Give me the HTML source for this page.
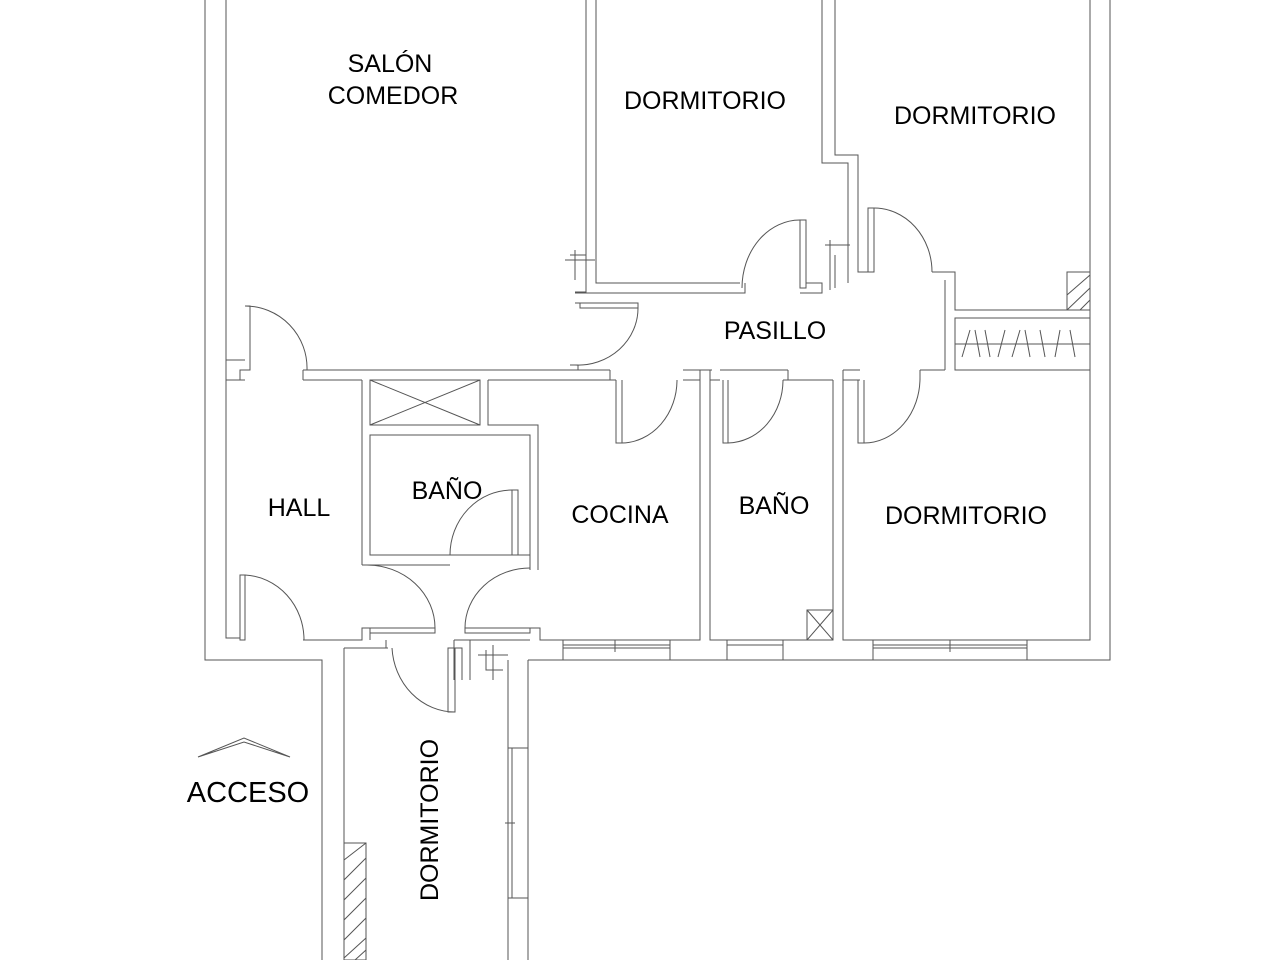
<!DOCTYPE html>
<html><head><meta charset="utf-8"><style>
html,body{margin:0;padding:0;background:#fff;width:1280px;height:960px;overflow:hidden}
svg{display:block}
text{font-family:"Liberation Sans",sans-serif;fill:#000;font-size:25px}
</style></head><body>
<svg width="1280" height="960" viewBox="0 0 1280 960">
<g fill="none" stroke="#555" stroke-width="1">
<path d="M205 0 V660 H322 V960"/>
<path d="M226 0 V360 H245"/>
<path d="M226 380 V638 H240"/>
<path d="M344 648 V960"/>
<path d="M344 648 H388"/>
<path d="M226 380 H245 M226 360 V380"/>
<path d="M245 306 H250 V370 H240 V380"/>
<path d="M245 306 A62 62 0 0 1 307 370"/>
<path d="M303 370 H610 M303 380 H362 M370 380 H480 M488 380 H610"/>
<path d="M303 370 V380"/>
<rect x="370" y="380" width="110" height="45"/>
<path d="M370 380 L480 425 M480 380 L370 425"/>
<path d="M362 380 V565 M488 380 V425 H538 V570"/>
<rect x="370" y="435" width="160" height="120"/>
<path d="M362 565 H450 M530 555 V570"/>
<path d="M512 490 H518 V555 H512 Z"/>
<path d="M512 490 A62 65 0 0 0 450 555"/>
<path d="M240 575 H245 V640 H240 Z"/>
<path d="M245 575 A62 65 0 0 1 304 640"/>
<path d="M303 640 H362 V628 H370 V640 M370 628 H435 V633 H370"/>
<path d="M367 565 A68 63 0 0 1 435 628"/>
<path d="M465 628 H530 V633 H465 Z"/>
<path d="M530 568 A65 60 0 0 0 465 628"/>
<path d="M530 628 H540 V640 H700 V380 H683"/>
<path d="M454 640 H530 M454 640 V680 M470 640 V680 M386 648 V640"/>
<path d="M454 648 H462 V680"/>
<path d="M478 655 H508 M493 645 V680 M486 650 V670 H503"/>
<path d="M508 660 V960 M528 660 V960"/>
<rect x="508" y="748" width="4" height="150"/>
<path d="M508 748 H528 M508 898 H528 M505 823 H515"/>
<rect x="344" y="843" width="22" height="117"/>
<path d="M344 860 L366 843 M344 880 L366 858 M344 900 L366 878 M344 920 L366 898 M344 940 L366 918 M344 958 L366 938 M355 960 L366 950"/>
<path d="M392 648 A63 68 0 0 0 455 712 M448 648 H455 V712 H448 Z"/>
<path d="M528 660 H1110 V0 M1090 0 V640 H843 V380 H860"/>
<path d="M563 640 V660 M670 640 V660 M727 640 V660 M783 640 V660 M873 640 V660 M1027 640 V660"/>
<path d="M563 645 H670 M563 648 H670 M615 640 V652 M873 645 H1027 M873 648 H1027 M950 640 V652 M727 645 H783"/>
<path d="M710 380 V640 H833 V380 M710 380 H720 M783 380 H833"/>
<rect x="807" y="610" width="26" height="30"/>
<path d="M807 610 L833 640 M833 610 L807 640"/>
<path d="M616 380 V443 H622 V380"/>
<path d="M622 443 A56 63 0 0 0 677 380"/>
<path d="M723 380 V443 H728 V380"/>
<path d="M728 443 A56 63 0 0 0 783 380"/>
<path d="M858 380 V443 H864 V380"/>
<path d="M864 443 A56 65 0 0 0 920 378"/>
<path d="M610 370 V380 H616 M683 370 H712 M700 370 V380 M710 370 V380 H715 M720 370 H788 M788 370 V380 M843 370 V380 M843 370 H860 M920 370 H945 M920 370 V380"/>
<path d="M586 0 V292 H575 M596 0 V283 H740 M575 293 H745 V283"/>
<path d="M575 303 H638 V308 H580 V303"/>
<path d="M638 308 A60 57 0 0 1 575 365"/>
<path d="M570 365 H578 V370"/>
<path d="M565 260 H595 M575 250 V280 M570 255 H586 V285"/>
<path d="M800 220 H806 V288 H800 Z"/>
<path d="M800 220 A58 68 0 0 0 742 288"/>
<path d="M806 283 H822 V293 H800"/>
<path d="M822 0 V163 H848 V283 M835 0 V155 H858 V272 H868"/>
<path d="M825 245 H850 M830 240 V290 M835 255 V288"/>
<path d="M868 208 H874 V272 H868 Z"/>
<path d="M874 208 A58 64 0 0 1 932 272"/>
<path d="M932 272 H955 V310 H1090 M945 280 V370"/>
<rect x="955" y="318" width="135" height="52"/>
<path d="M955 344 H1090 M962 357 L970 330 M975 330 L980 357 M985 330 L990 357 M998 357 L1005 330 M1012 357 L1020 330 M1025 330 L1030 357 M1040 330 L1045 357 M1055 357 L1060 330 M1070 330 L1075 357"/>
<rect x="1067" y="272" width="23" height="38"/>
<path d="M1067 295 L1090 275 M1067 310 L1090 288 M1080 310 L1090 300"/>
<path d="M198 757 L244 738 L290 757 L244 742 Z"/>
</g>
<text x="390" y="72" text-anchor="middle">SALÓN</text>
<text x="393" y="104" text-anchor="middle">COMEDOR</text>
<text x="705" y="109" text-anchor="middle">DORMITORIO</text>
<text x="975" y="124" text-anchor="middle">DORMITORIO</text>
<text x="775" y="339" text-anchor="middle">PASILLO</text>
<text x="299" y="516" text-anchor="middle">HALL</text>
<text x="447" y="499" text-anchor="middle">BAÑO</text>
<text x="620" y="523" text-anchor="middle">COCINA</text>
<text x="774" y="514" text-anchor="middle">BAÑO</text>
<text x="966" y="524" text-anchor="middle">DORMITORIO</text>
<text x="248" y="802" text-anchor="middle" style="font-size:29px">ACCESO</text>
<text transform="translate(438 820) rotate(-90)" text-anchor="middle">DORMITORIO</text>
</svg>
</body></html>
